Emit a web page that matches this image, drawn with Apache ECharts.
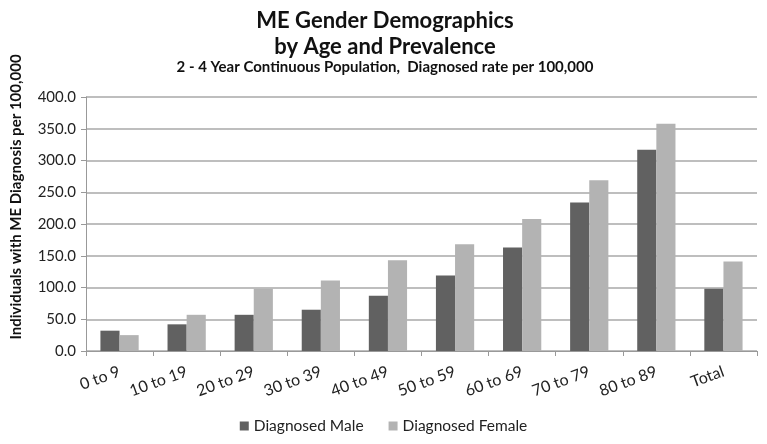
<!DOCTYPE html>
<html><head><meta charset="utf-8">
<script src="https://cdn.jsdelivr.net/npm/echarts@6/dist/echarts.min.js"></script>
<style>html,body{margin:0;padding:0;background:#fff}#c{width:767px;height:444px}</style>
</head><body><div id="c"></div>
<script>
const categories = ['0 to 9','10 to 19','20 to 29','30 to 39','40 to 49','50 to 59','60 to 69','70 to 79','80 to 89','Total'];
const male = [32, 42, 57, 65, 87, 119, 163, 234, 317, 98];
const female = [25, 57, 98, 111, 143, 168, 208, 269, 358, 141];
const seriesNames = ['Diagnosed Male','Diagnosed Female'];
const FONT = 'Lato, "Liberation Sans", sans-serif';
const chart = echarts.init(document.getElementById('c'));
chart.setOption({
  animation:false,
  title:[
    {text:'ME Gender Demographics\nby Age and Prevalence', left:380, top:3, textAlign:'center',
     textStyle:{fontFamily:FONT,fontSize:22,fontWeight:'bold',color:'#111',lineHeight:26}},
    {text:'2 - 4 Year Continuous Population,  Diagnosed rate per 100,000', left:380, top:55, textAlign:'center',
     textStyle:{fontFamily:FONT,fontSize:15,fontWeight:'bold',color:'#111'}}
  ],
  legend:{data:seriesNames, bottom:5, left:'center', itemWidth:9, itemHeight:9, itemGap:25, icon:'rect',
    textStyle:{fontFamily:FONT,fontSize:15.5,color:'#222'}},
  grid:{left:86,right:10,top:97,bottom:93},
  xAxis:{type:'category',data:categories,
    axisLine:{lineStyle:{color:'#999',width:1}},
    axisTick:{show:true,length:5,lineStyle:{color:'#999'}},
    axisLabel:{rotate:20,fontFamily:FONT,fontSize:16,color:'#222',margin:20}},
  yAxis:{type:'value',min:0,max:400,interval:50,
    name:'Individuals with ME Diagnosis per 100,000',nameLocation:'middle',nameGap:62,
    nameTextStyle:{fontFamily:FONT,fontSize:15,fontWeight:'bold',color:'#111',padding:[0,0,0,54]},
    axisLine:{show:true,lineStyle:{color:'#999'}},
    axisTick:{show:true,length:5,lineStyle:{color:'#999'}},
    splitLine:{lineStyle:{color:'#a8a8a8',width:1.5}},
    axisLabel:{fontFamily:FONT,fontSize:15,color:'#222',margin:10,formatter:v=>v.toFixed(1)}},
  series:[
    {name:seriesNames[0],type:'bar',data:male,itemStyle:{color:'#616161'},barGap:'0%',barCategoryGap:'43%'},
    {name:seriesNames[1],type:'bar',data:female,itemStyle:{color:'#b3b3b3'},barGap:'0%',barCategoryGap:'43%'}
  ]
});
</script></body></html>
